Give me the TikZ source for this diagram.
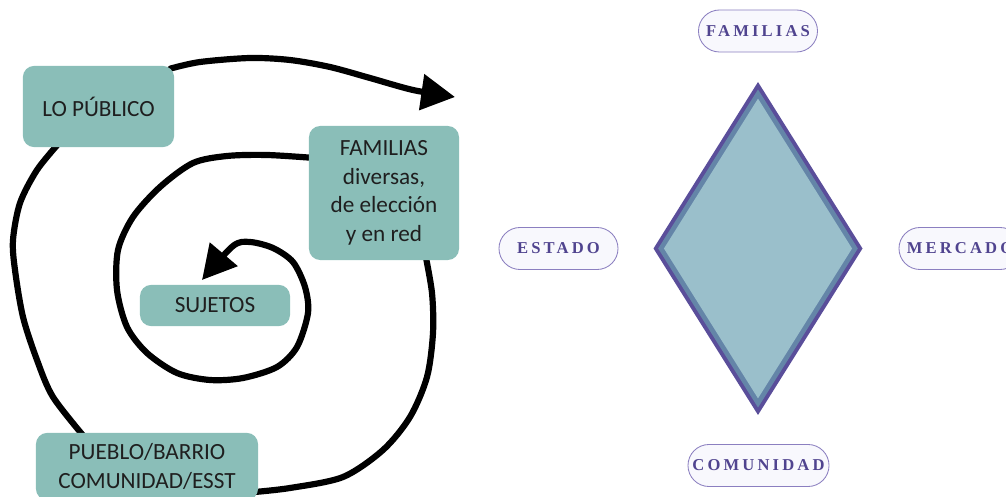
\documentclass[tikz,border=0pt]{standalone}
\usepackage{fontspec}
\setmainfont{Carlito}
\newfontfamily\pillfont[LetterSpace=19]{Liberation Serif}
\usepackage{tikz}
\usetikzlibrary{calc, arrows.meta, shapes.misc, backgrounds}
\tikzset{>=latex}
\definecolor{myteal}{RGB}{138, 190, 184}
\definecolor{mypurple}{RGB}{90, 78, 154}
\definecolor{mysteel}{RGB}{100, 133, 168}
\definecolor{mylightblue}{RGB}{154, 191, 203}
\definecolor{mylilac}{RGB}{139, 127, 192}
\definecolor{mypillfill}{RGB}{248, 248, 253}
\definecolor{mypilltext}{RGB}{80, 68, 143}
\tikzset{
  tealbox/.style = {fill = myteal, rounded corners = 0.28cm, align = center, inner sep = 0pt,
    font = \fontsize{16.5}{20.3}\selectfont, text = black!88},
  pill/.style = {rounded rectangle, draw = mylilac, line width = 0.6pt, fill = mypillfill,
    minimum width = 2.975cm, minimum height = 1.05cm, inner sep = 0pt,
    font = \pillfont\bfseries\fontsize{11.8}{14}\selectfont, text = mypilltext},
  spiral/.style = {line width = 4.4pt, line cap = round, line join = round},
  bigtip/.style = {-{Triangle[length = 24pt, width = 25pt]}}
}

\begin{document}
\begin{tikzpicture}[x = 0.025cm, y = -0.025cm]
\useasboundingbox (0,0) rectangle (1006,497);
\clip (0,0) rectangle (1006,497);

\node[tealbox, minimum width = 3.78cm, minimum height = 2.03cm] (lopub) at (98.5,106.5) {LO PÚBLICO};
\node[tealbox, minimum width = 3.75cm, minimum height = 3.35cm] (famdiv) at (384,193) {FAMILIAS\\diversas,\\de elección\\y en red};
\node[tealbox, minimum width = 3.75cm, minimum height = 1.03cm] (sujetos) at (215,305.5) {SUJETOS};
\node[tealbox, minimum width = 5.55cm, minimum height = 1.68cm] (pueblo) at (147,466.5) {PUEBLO/BARRIO\\COMUNIDAD/ESST};

\coordinate (topstart) at ($(lopub.north east)+(-4,3)$);
\coordinate (tipout) at (455,97);
\coordinate (leftstart) at ($(lopub.south west)+(37,-5)$);
\coordinate (leftend) at ($(pueblo.north west)+(50,6)$);
\coordinate (botstart) at ($(pueblo.south east)+(-8,-8)$);
\coordinate (botend) at ($(famdiv.south east)+(-34,-6)$);
\coordinate (instart) at ($(famdiv.west)+(6,-35)$);
\coordinate (tipin) at (202,280);

\begin{scope}[on background layer]
\draw[spiral, bigtip] plot[smooth] coordinates {(topstart) (200,62) (250,58) (290,60) (330,67) (370,78) (413,90) (tipout)};
\draw[spiral] plot[smooth] coordinates {(leftstart) (37,170) (20,203) (13,240) (15,270) (23,317) (37,360) (53,397) (leftend)};
\draw[spiral] plot[smooth] coordinates {(botstart) (290,488) (343,477) (383,450) (410,417) (427,377) (433,333) (432,293) (botend)};
\draw[spiral, bigtip] plot[smooth] coordinates {(instart) (267,155) (227,156) (193,163) (160,187) (133,217) (118,250) (117,290) (127,327) (147,353) (177,373) (210,380) (243,378) (277,367) (297,347) (308,313) (305,287) (293,262) (273,248) (250,242) (233,246) (tipin)};
\end{scope}

\begin{scope}[shift = {(758,248.5)}]
\fill[mypurple] (0,-166.5) -- (104.5,0) -- (0,166.5) -- (-104.5,0) -- cycle;
\fill[mysteel, scale = 0.955] (0,-166.5) -- (104.5,0) -- (0,166.5) -- (-104.5,0) -- cycle;
\fill[mylightblue, scale = 0.9] (0,-166.5) -- (104.5,0) -- (0,166.5) -- (-104.5,0) -- cycle;
\end{scope}

\node[pill] (famlab) at (758,31) {FAMILIAS};
\node[pill] (estado) at (558.5,248.5) {ESTADO};
\node[pill, minimum width = 3.05cm] (mercado) at (960,248.5) {MERCADO};
\node[pill, minimum width = 3.525cm] (comunidad) at (758.5,465.5) {COMUNIDAD};
\end{tikzpicture}
\end{document}
